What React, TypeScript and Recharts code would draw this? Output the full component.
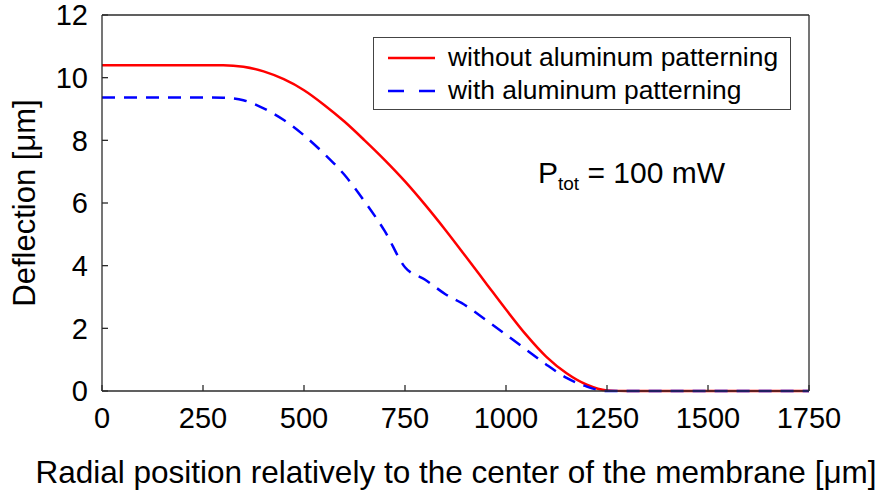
import { LineChart, Line, XAxis, YAxis, Legend, Customized } from "recharts";

// radial position [µm], sampled every 50 µm
const radialPositions = [
  0, 50, 100, 150, 200, 250, 300, 350, 400, 450, 500, 550, 600, 650, 700, 750, 800, 850,
  900, 950, 1000, 1050, 1100, 1150, 1200, 1250, 1300, 1350, 1400, 1450, 1500, 1550, 1600,
  1650, 1700, 1750,
];

// deflection [µm]
const deflectionWithout = [
  10.4, 10.4, 10.4, 10.4, 10.4, 10.4, 10.4, 10.35, 10.2, 9.95, 9.6, 9.13, 8.6, 8.0, 7.37,
  6.69, 5.94, 5.14, 4.3, 3.45, 2.6, 1.79, 1.09, 0.565, 0.2, 0.02, 0, 0, 0, 0, 0, 0, 0, 0, 0, 0,
];

const deflectionWith = [
  9.37, 9.37, 9.37, 9.37, 9.37, 9.37, 9.36, 9.28, 9.02, 8.65, 8.16, 7.57, 6.9, 6.05, 5.1, 3.95,
  3.55, 3.09, 2.73, 2.27, 1.8, 1.32, 0.84, 0.42, 0.14, 0, 0, 0, 0, 0, 0, 0, 0, 0, 0, 0,
];

const seriesNames = ["without aluminum patterning", "with aluminum patterning"];

const xTicks = [0, 250, 500, 750, 1000, 1250, 1500, 1750];
const yTicks = [0, 2, 4, 6, 8, 10, 12];

const data = radialPositions.map((x, i) => ({
  x,
  without: deflectionWithout[i],
  with: deflectionWith[i],
}));

const FONT = "Arial, 'Liberation Sans', Helvetica, sans-serif";
const AXIS = "#2b2b2b";
const tickStyle = { fontSize: 29, fill: "#000", fontFamily: FONT };

function LegendBox({ payload }: any) {
  const items = [...(payload || [])].sort(
    (a: any, b: any) => seriesNames.indexOf(a.value) - seriesNames.indexOf(b.value)
  );
  return (
    <div
      style={{
        width: "100%",
        height: "100%",
        boxSizing: "border-box",
        border: "1.3px solid #444",
        background: "#fff",
        paddingTop: 3,
        fontFamily: FONT,
      }}
    >
      {items.map((p: any) => (
        <div key={p.value} style={{ display: "flex", alignItems: "center", height: 33 }}>
          <svg width={60} height={10} style={{ marginLeft: 14 }}>
            <line
              x1={0}
              x2={47}
              y1={5}
              y2={5}
              stroke={p.color}
              strokeWidth={2.5}
              strokeDasharray={p.payload?.strokeDasharray ? "16 15" : undefined}
            />
          </svg>
          <span style={{ fontSize: 26.4, color: "#000", whiteSpace: "nowrap" }}>{p.value}</span>
        </div>
      ))}
    </div>
  );
}

function Texts() {
  return (
    <g fontFamily={FONT} fill="#000">
      <text x={538} y={183} fontSize={30}>
        P
        <tspan fontSize={19} dy={7}>
          tot
        </tspan>
        <tspan fontSize={30} dy={-7}>
          {" = 100 mW"}
        </tspan>
      </text>
      <text x={456} y={483} fontSize={31.5} textAnchor="middle">
        Radial position relatively to the center of the membrane [μm]
      </text>
      <text x={35} y={203} fontSize={31} textAnchor="middle" transform="rotate(-90 35 203)">
        Deflection [μm]
      </text>
    </g>
  );
}

export default function App() {
  return (
    <div style={{ position: "absolute", left: 0, top: 0, background: "#fff" }}>
      <LineChart
        width={882}
        height={491}
        data={data}
        margin={{ top: 14, right: 72, bottom: 40, left: 0 }}
      >
        <XAxis
          dataKey="x"
          type="number"
          domain={[0, 1750]}
          ticks={xTicks}
          height={60}
          tickSize={-6}
          tickMargin={22}
          tick={tickStyle}
          stroke={AXIS}
          strokeWidth={1.3}
          interval={0}
        />
        <XAxis
          xAxisId="top"
          orientation="top"
          dataKey="x"
          type="number"
          domain={[0, 1750]}
          ticks={xTicks}
          height={1}
          tickSize={-6}
          tick={false}
          stroke={AXIS}
          strokeWidth={1.3}
          interval={0}
        />
        <YAxis
          type="number"
          domain={[0, 12]}
          ticks={yTicks}
          width={102}
          tickSize={-6}
          tickMargin={20}
          tick={tickStyle}
          stroke={AXIS}
          strokeWidth={1.3}
          interval={0}
        />
        <YAxis
          yAxisId="right"
          orientation="right"
          type="number"
          domain={[0, 12]}
          ticks={yTicks}
          width={1}
          tickSize={-6}
          tick={false}
          stroke={AXIS}
          strokeWidth={1.3}
          interval={0}
        />
        <Legend
          layout="horizontal"
          verticalAlign="middle"
          align="center"
          content={<LegendBox />}
          wrapperStyle={{ left: 373, top: 37, width: 418, height: 73 }}
        />
        <Line
          name={seriesNames[0]}
          dataKey="without"
          type="monotone"
          stroke="#ff0000"
          strokeWidth={2.5}
          dot={false}
          isAnimationActive={false}
        />
        <Line
          name={seriesNames[1]}
          dataKey="with"
          type="monotone"
          stroke="#0000ff"
          strokeWidth={2.5}
          strokeDasharray="13 9"
          dot={false}
          isAnimationActive={false}
        />
        <Customized component={Texts} />
      </LineChart>
    </div>
  );
}
